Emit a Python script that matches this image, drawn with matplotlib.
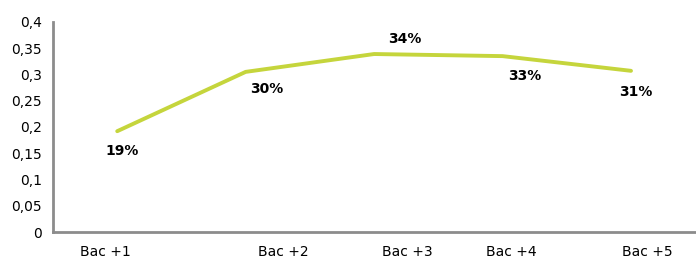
import matplotlib
matplotlib.use("Agg")
import matplotlib.pyplot as plt

categories = ["Bac +1", "Bac +2", "Bac +3", "Bac +4", "Bac +5"]
values = [0.192, 0.305, 0.339, 0.335, 0.307]
value_labels = ["19%", "30%", "34%", "33%", "31%"]
label_x = [-0.09, 1.29, 2.26, 3.07, 4.13]
ann_offsets = [(5, -20), (21, -17), (31, 15), (22, -20), (5, -21)]

fig = plt.figure(figsize=(6.96, 2.6), dpi=100)
ax = fig.add_axes([53/696, 28/260, 1 - 53/696, 210/260])

x = list(range(len(values)))
ax.plot(x, values, color="#c5d53c", linewidth=2.8, solid_capstyle="round")

for xi, v, lab, off in zip(x, values, value_labels, ann_offsets):
    ax.annotate(lab, (xi, v), xytext=off, textcoords="offset pixels",
                ha="center", va="center", fontsize=10, fontweight="bold", color="black")

ax.set_xlim(-0.5, 4.506)
ax.set_ylim(0, 0.4)
yt = [0, 0.05, 0.1, 0.15, 0.2, 0.25, 0.3, 0.35, 0.4]
ax.set_yticks(yt)
ax.set_yticklabels([("%g" % t).replace(".", ",") for t in yt], fontsize=10)
ax.set_xticks(label_x)
ax.set_xticklabels(categories, fontsize=10)
ax.tick_params(axis="both", length=0, colors="black")
ax.tick_params(axis="y", pad=8)
ax.tick_params(axis="x", pad=9)

for s in ["top", "right"]:
    ax.spines[s].set_visible(False)
for s in ["left", "bottom"]:
    ax.spines[s].set_color("#8c8c8c")
    ax.spines[s].set_linewidth(2)

fig.savefig("out.png", dpi=100)
